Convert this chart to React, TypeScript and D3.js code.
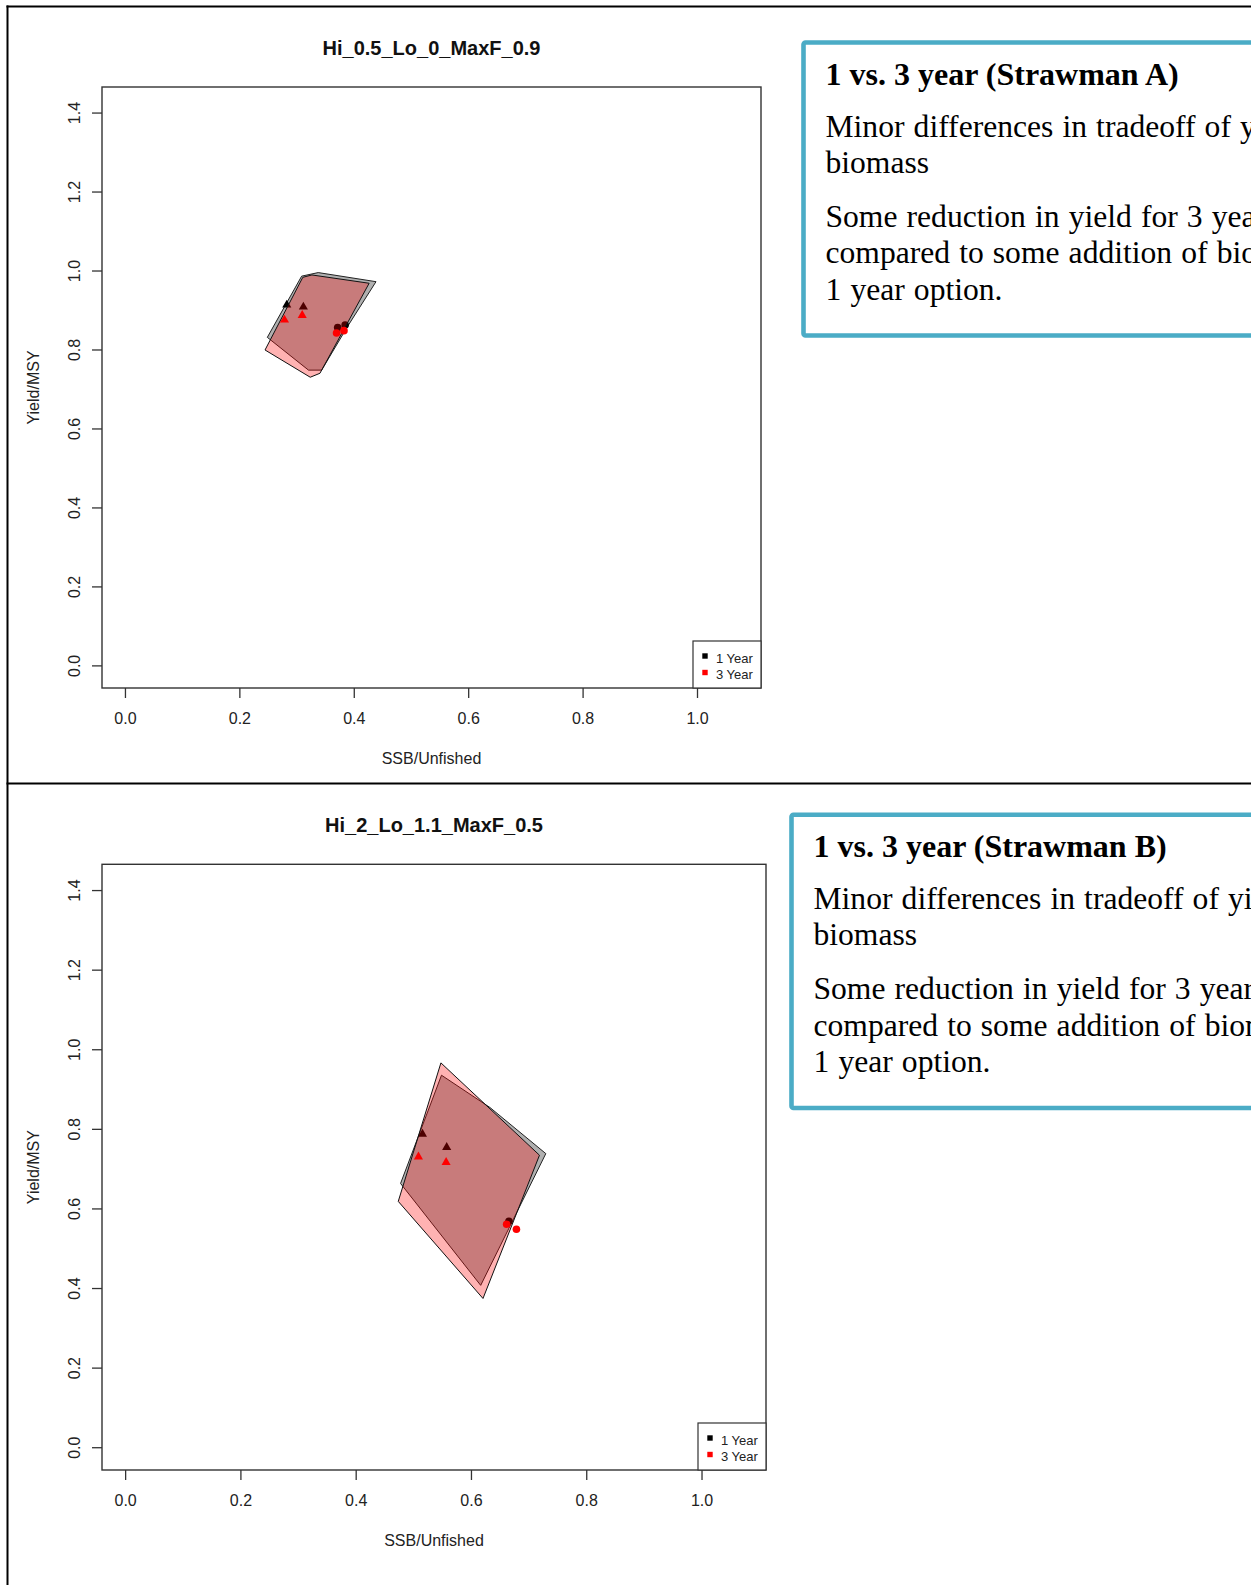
import React from "react";
import * as d3 from "d3";

// ---------- data ----------
const xTicks = [0, 0.2, 0.4, 0.6, 0.8, 1.0];
const yTicks = [0, 0.2, 0.4, 0.6, 0.8, 1.0, 1.2, 1.4];
const seriesNames = ["1 Year", "3 Year"];
const panelTitles = ["Hi_0.5_Lo_0_MaxF_0.9", "Hi_2_Lo_1.1_MaxF_0.5"];
const xAxisTitle = "SSB/Unfished";
const yAxisTitle = "Yield/MSY";

// Panel A (top)
const hullA1Year: [number, number][] = [
  [0.248, 0.832], [0.308, 0.987], [0.337, 0.996], [0.438, 0.973],
  [0.388, 0.859], [0.343, 0.749], [0.320, 0.749],
];
const hullA3Year: [number, number][] = [
  [0.244, 0.800], [0.310, 0.984], [0.326, 0.990], [0.426, 0.969],
  [0.340, 0.741], [0.323, 0.731],
];
const triA1Year: [number, number][] = [[0.282, 0.916], [0.311, 0.911]];
const triA3Year: [number, number][] = [[0.278, 0.878], [0.309, 0.890]];
const circA1Year: [number, number][] = [[0.371, 0.857], [0.384, 0.863]];
const circA3Year: [number, number][] = [[0.369, 0.843], [0.382, 0.849]];

// Panel B (bottom)
const hullB1Year: [number, number][] = [
  [0.548, 0.936], [0.632, 0.855], [0.729, 0.739], [0.616, 0.408], [0.477, 0.664],
];
const hullB3Year: [number, number][] = [
  [0.547, 0.967], [0.718, 0.735], [0.620, 0.375], [0.473, 0.619],
];
const triB1Year: [number, number][] = [[0.515, 0.790], [0.557, 0.757]];
const triB3Year: [number, number][] = [[0.508, 0.733], [0.556, 0.719]];
const circB1Year: [number, number][] = [[0.665, 0.569]];
const circB3Year: [number, number][] = [[0.661, 0.5615], [0.678, 0.549]];

const noteTitles = ["1 vs. 3 year (Strawman A)", "1 vs. 3 year (Strawman B)"];
const noteLines = [
  "Minor differences in tradeoff of yield and",
  "biomass",
  "Some reduction in yield for 3 year option",
  "compared to some addition of biomass for",
  "1 year option.",
];

// ---------- layout ----------
const W = 1251;
const H = 1585;
const X_DOMAIN: [number, number] = [-0.041, 1.111];
const Y_DOMAIN: [number, number] = [-0.056, 1.466];
const panelBoxes = [
  { left: 102, right: 761, top: 87, bottom: 688 },
  { left: 102, right: 766, top: 864.3, bottom: 1470 },
];
const noteBoxes = [
  { x: 803.5, y: 42.5, h: 293 },
  { x: 791.5, y: 814.8, h: 293.2 },
];
const noteOffsets = [94.2, 130.4, 184.2, 220.8, 257.4];

const SANS = "'Liberation Sans', Arial, sans-serif";
const SERIF = "'Liberation Serif', 'Times New Roman', serif";
const GREY_FILL = "rgba(0,0,0,0.31)";
const RED_FILL = "rgba(255,0,0,0.3)";
const BLUE = "#4BACC6";

type Pt = [number, number];

function Panel(props: {
  box: { left: number; right: number; top: number; bottom: number };
  title: string;
  hull1: Pt[];
  hull3: Pt[];
  tri1: Pt[];
  tri3: Pt[];
  circ1: Pt[];
  circ3: Pt[];
}) {
  const { box, title, hull1, hull3, tri1, tri3, circ1, circ3 } = props;
  const x = d3.scaleLinear().domain(X_DOMAIN).range([box.left, box.right]);
  const y = d3.scaleLinear().domain(Y_DOMAIN).range([box.bottom, box.top]);
  const line = d3
    .line<Pt>()
    .x((d) => x(d[0]))
    .y((d) => y(d[1]))
    .curve(d3.curveLinearClosed);
  const triSym = d3.symbol(d3.symbolTriangle, 36);
  const cx = (box.left + box.right) / 2;
  const cy = (box.top + box.bottom) / 2;
  const legW = 68;
  const legH = 47;
  const legL = box.right - legW;
  const legT = box.bottom - legH;
  const tri = (pts: Pt[], color: string) =>
    pts.map((p, i) => (
      <path
        key={i}
        d={triSym() as string}
        transform={`translate(${x(p[0])},${y(p[1]) + 0.8})`}
        fill={color}
      />
    ));
  const circ = (pts: Pt[], color: string) =>
    pts.map((p, i) => (
      <circle key={i} cx={x(p[0])} cy={y(p[1])} r={3.8} fill={color} />
    ));
  return (
    <g>
      <text
        x={cx}
        y={box.top - 32}
        textAnchor="middle"
        fontFamily={SANS}
        fontWeight="bold"
        fontSize={20}
        fill="#111"
      >
        {title}
      </text>
      {/* data */}
      <path d={line(hull1) as string} fill={GREY_FILL} stroke="#222" strokeWidth={1} />
      {tri(tri1, "#000")}
      {circ(circ1, "#000")}
      <path d={line(hull3) as string} fill={RED_FILL} stroke="#111" strokeWidth={1} />
      {tri(tri3, "#FF0000")}
      {circ(circ3, "#FF0000")}
      {/* box */}
      <rect
        x={box.left}
        y={box.top}
        width={box.right - box.left}
        height={box.bottom - box.top}
        fill="none"
        stroke="#333"
        strokeWidth={1.4}
      />
      {/* x axis */}
      {xTicks.map((t) => (
        <g key={t}>
          <line x1={x(t)} x2={x(t)} y1={box.bottom} y2={box.bottom + 10} stroke="#333" strokeWidth={1.3} />
          <text
            x={x(t)}
            y={box.bottom + 36}
            textAnchor="middle"
            fontFamily={SANS}
            fontSize={16}
            fill="#222"
          >
            {t.toFixed(1)}
          </text>
        </g>
      ))}
      {/* y axis */}
      {yTicks.map((t) => (
        <g key={t}>
          <line x1={box.left - 10} x2={box.left} y1={y(t)} y2={y(t)} stroke="#333" strokeWidth={1.3} />
          <text
            transform={`translate(${box.left - 22},${y(t)}) rotate(-90)`}
            textAnchor="middle"
            fontFamily={SANS}
            fontSize={16}
            fill="#222"
          >
            {t.toFixed(1)}
          </text>
        </g>
      ))}
      <text
        x={cx}
        y={box.bottom + 75.5}
        textAnchor="middle"
        fontFamily={SANS}
        fontSize={16}
        fill="#222"
      >
        {xAxisTitle}
      </text>
      <text
        transform={`translate(39,${cy}) rotate(-90)`}
        textAnchor="middle"
        fontFamily={SANS}
        fontSize={16}
        fill="#222"
      >
        {yAxisTitle}
      </text>
      {/* legend */}
      <rect x={legL} y={legT} width={legW} height={legH} fill="#fff" stroke="#333" strokeWidth={1.2} />
      {seriesNames.map((s, i) => (
        <g key={s}>
          <rect
            x={legL + 12 - 2.7}
            y={legT + 15 + i * 16.5 - 2.7}
            width={5.4}
            height={5.4}
            fill={i === 0 ? "#000" : "#FF0000"}
          />
          <text
            x={legL + 23}
            y={legT + 21.5 + i * 16.5}
            fontFamily={SANS}
            fontSize={13}
            fill="#222"
          >
            {s}
          </text>
        </g>
      ))}
    </g>
  );
}

function Note(props: { box: { x: number; y: number; h: number }; title: string }) {
  const { box, title } = props;
  const tx = box.x + 22;
  return (
    <g>
      <rect
        x={box.x}
        y={box.y}
        width={W - box.x + 40}
        height={box.h}
        rx={2}
        fill="#fff"
        stroke={BLUE}
        strokeWidth={4.6}
      />
      <text x={tx} y={box.y + 42.3} fontFamily={SERIF} fontWeight="bold" fontSize={32} fill="#000">
        {title}
      </text>
      {noteLines.map((l, i) => (
        <text
          key={i}
          x={tx}
          y={box.y + noteOffsets[i]}
          fontFamily={SERIF}
          fontSize={31.6}
          wordSpacing={1.2}
          fill="#000"
        >
          {l}
        </text>
      ))}
    </g>
  );
}

export default function App() {
  const hulls1 = [hullA1Year, hullB1Year];
  const hulls3 = [hullA3Year, hullB3Year];
  const tris1 = [triA1Year, triB1Year];
  const tris3 = [triA3Year, triB3Year];
  const circs1 = [circA1Year, circB1Year];
  const circs3 = [circA3Year, circB3Year];
  return (
    <svg
      width={W}
      height={H}
      style={{ position: "absolute", left: 0, top: 0, display: "block", background: "#fff" }}
    >
      <rect x={0} y={0} width={W} height={H} fill="#fff" />
      {/* document frame lines */}
      <line x1={6.5} x2={W} y1={6.5} y2={6.5} stroke="#000" strokeWidth={2} />
      <line x1={7.5} x2={7.5} y1={5.5} y2={H} stroke="#000" strokeWidth={2} />
      <line x1={6.5} x2={W} y1={783.5} y2={783.5} stroke="#000" strokeWidth={2} />
      {panelBoxes.map((b, i) => (
        <Panel
          key={i}
          box={b}
          title={panelTitles[i]}
          hull1={hulls1[i]}
          hull3={hulls3[i]}
          tri1={tris1[i]}
          tri3={tris3[i]}
          circ1={circs1[i]}
          circ3={circs3[i]}
        />
      ))}
      {noteBoxes.map((b, i) => (
        <Note key={i} box={b} title={noteTitles[i]} />
      ))}
    </svg>
  );
}
